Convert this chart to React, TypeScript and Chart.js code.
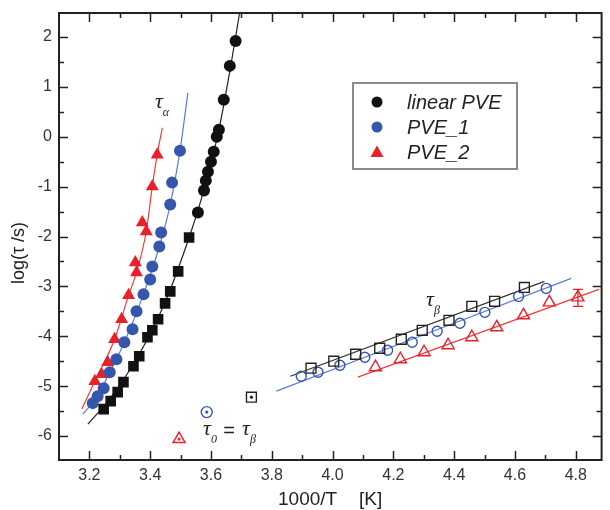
import React, { useEffect, useRef } from "react";
import { Chart, registerables } from "chart.js";
Chart.register(...registerables);

// axis ticks
const xTicks = [3.2, 3.4, 3.6, 3.8, 4.0, 4.2, 4.4, 4.6, 4.8];
const xMinorTicks = [3.3, 3.5, 3.7, 3.9, 4.1, 4.3, 4.5, 4.7];
const yTicks = [-6, -5, -4, -3, -2, -1, 0, 1, 2];
const yMinorTicks = [-5.5, -4.5, -3.5, -2.5, -1.5, -0.5, 0.5, 1.5];

// linear PVE, alpha process (circles and squares)
const linAlphaCircX = [3.681, 3.662, 3.642, 3.626, 3.619, 3.609, 3.600, 3.590, 3.583, 3.577, 3.557];
const linAlphaCircY = [1.92, 1.42, 0.74, 0.14, 0.0, -0.30, -0.50, -0.70, -0.88, -1.08, -1.52];
const linAlphaSqX = [3.528, 3.492, 3.466, 3.449, 3.426, 3.407, 3.391, 3.364, 3.345, 3.312, 3.293, 3.270, 3.247];
const linAlphaSqY = [-2.02, -2.70, -3.10, -3.34, -3.66, -3.88, -4.02, -4.40, -4.60, -4.92, -5.12, -5.30, -5.46];
const linAlphaFitX = [3.195, 3.266, 3.364, 3.446, 3.528, 3.577, 3.626, 3.665, 3.694];
const linAlphaFitY = [-5.76, -5.26, -4.36, -3.36, -2.02, -1.06, 0.14, 1.42, 2.48];

// PVE_1 alpha
const pve1AlphaX = [3.498, 3.472, 3.466, 3.436, 3.430, 3.407, 3.400, 3.378, 3.355, 3.342, 3.315, 3.289, 3.267, 3.247, 3.227, 3.211];
const pve1AlphaY = [-0.28, -0.92, -1.36, -1.92, -2.20, -2.60, -2.86, -3.16, -3.50, -3.86, -4.12, -4.46, -4.72, -5.04, -5.20, -5.34];
const pve1AlphaFitX = [3.178, 3.227, 3.267, 3.315, 3.378, 3.430, 3.466, 3.498, 3.524];
const pve1AlphaFitY = [-5.56, -5.20, -4.72, -4.12, -3.16, -2.20, -1.36, -0.28, 0.88];

// PVE_2 alpha
const pve2AlphaX = [3.423, 3.407, 3.374, 3.387, 3.351, 3.355, 3.329, 3.306, 3.283, 3.260, 3.240, 3.218];
const pve2AlphaY = [-0.36, -1.00, -1.72, -1.90, -2.52, -2.72, -3.18, -3.66, -4.06, -4.52, -4.76, -4.90];
const pve2AlphaFitX = [3.175, 3.218, 3.283, 3.329, 3.355, 3.387, 3.407, 3.423, 3.440];
const pve2AlphaFitY = [-5.46, -4.90, -4.06, -3.18, -2.72, -1.90, -1.00, -0.36, 0.18];

// beta process
const linBetaX = [3.929, 4.004, 4.076, 4.155, 4.226, 4.295, 4.383, 4.458, 4.533, 4.631];
const linBetaY = [-4.64, -4.50, -4.36, -4.24, -4.06, -3.88, -3.68, -3.40, -3.30, -3.02];
const linBetaFitX = [3.861, 4.697];
const linBetaFitY = [-4.80, -2.90];
const pve1BetaX = [3.897, 3.952, 4.024, 4.106, 4.181, 4.262, 4.344, 4.419, 4.501, 4.612, 4.703];
const pve1BetaY = [-4.80, -4.72, -4.58, -4.42, -4.28, -4.12, -3.90, -3.74, -3.52, -3.20, -3.04];
const pve1BetaFitX = [3.815, 4.785];
const pve1BetaFitY = [-5.10, -2.84];
const pve2BetaX = [4.141, 4.223, 4.301, 4.380, 4.458, 4.540, 4.628, 4.713, 4.807];
const pve2BetaY = [-4.62, -4.46, -4.32, -4.18, -4.02, -3.82, -3.58, -3.32, -3.22];
const pve2BetaFitX = [4.083, 4.876];
const pve2BetaFitY = [-4.82, -3.06];
// error bar on the last PVE_2 beta point
const pve2BetaErrX = [4.807];
const pve2BetaErrLow = [-3.40];
const pve2BetaErrHigh = [-3.06];

// tau_0 points (linear PVE, PVE_1, PVE_2)
const tau0X = [3.733, 3.586, 3.495];
const tau0Y = [-5.22, -5.52, -6.06];

const BLACK = "#111111";
const BLUE = "#3656ac";
const BLUE_LINE = "#5a7ad8";
const RED = "#e8202a";
const RED_LINE = "#f03a3a";

const pts = (xs: number[], ys: number[]) => xs.map((v, i) => ({ x: v, y: ys[i] }));

const legendItems = [
  { label: "linear PVE", color: BLACK, style: "circle" },
  { label: "PVE_1", color: BLUE, style: "circle" },
  { label: "PVE_2", color: RED, style: "triangle" },
];

const decorPlugin = {
  id: "decor",
  afterDatasetsDraw(chart: any) {
    const { ctx } = chart;
    const xs = chart.scales.x;
    const ys = chart.scales.y;
    ctx.save();
    ctx.strokeStyle = RED;
    ctx.lineWidth = 1.3;
    pve2BetaErrX.forEach((v, i) => {
      const px = xs.getPixelForValue(v);
      const lo = ys.getPixelForValue(pve2BetaErrLow[i]);
      const hi = ys.getPixelForValue(pve2BetaErrHigh[i]);
      ctx.beginPath();
      ctx.moveTo(px - 5, lo);
      ctx.lineTo(px + 5, lo);
      ctx.moveTo(px - 5, hi);
      ctx.lineTo(px + 5, hi);
      ctx.moveTo(px, hi);
      ctx.lineTo(px, lo);
      ctx.stroke();
    });
    ctx.restore();
  },
  afterDraw(chart: any) {
    const { ctx, chartArea } = chart;
    const { left, right, top, bottom } = chartArea;
    const xs = chart.scales.x;
    const ys = chart.scales.y;
    ctx.save();
    ctx.strokeStyle = "#222";
    ctx.lineWidth = 1.5;
    const line = (x1: number, y1: number, x2: number, y2: number) => {
      ctx.beginPath();
      ctx.moveTo(x1, y1);
      ctx.lineTo(x2, y2);
      ctx.stroke();
    };
    const xt = (vals: number[], len: number) => {
      vals.forEach((v) => {
        const p = Math.round(xs.getPixelForValue(v)) + 0.5;
        line(p, bottom, p, bottom - len);
        line(p, top, p, top + len);
      });
    };
    const yt = (vals: number[], len: number) => {
      vals.forEach((v) => {
        const p = Math.round(ys.getPixelForValue(v)) + 0.5;
        line(left, p, left + len, p);
        line(right, p, right - len, p);
      });
    };
    xt(xTicks, 9);
    xt(xMinorTicks, 5);
    yt(yTicks, 9);
    yt(yMinorTicks, 5);
    ctx.lineWidth = 2;
    ctx.strokeRect(left, top, right - left, bottom - top);

    // tick labels
    ctx.fillStyle = "#333";
    ctx.font = '16px "Liberation Sans", Arial, sans-serif';
    ctx.textAlign = "center";
    ctx.textBaseline = "middle";
    xTicks.forEach((v) => ctx.fillText(v.toFixed(1), xs.getPixelForValue(v), bottom + 16));
    ctx.textAlign = "right";
    yTicks.forEach((v) => ctx.fillText(String(v), left - 7, ys.getPixelForValue(v)));

    // axis titles
    ctx.fillStyle = "#222";
    ctx.font = '19px "Liberation Sans", Arial, sans-serif';
    ctx.textAlign = "left";
    ctx.fillText("1000/T", 278, 500);
    ctx.fillText("[K]", 359, 500);
    ctx.save();
    ctx.translate(19, 253);
    ctx.rotate(-Math.PI / 2);
    ctx.textAlign = "center";
    ctx.font = '18px "Liberation Sans", Arial, sans-serif';
    ctx.fillText("log(\u03C4 /s)", 0, 0);
    ctx.restore();

    // legend
    ctx.strokeStyle = "#8a8a8a";
    ctx.lineWidth = 2;
    ctx.strokeRect(353, 83, 164, 86);
    legendItems.forEach((it, i) => {
      const cy = 102 + i * 25;
      ctx.fillStyle = it.color;
      ctx.beginPath();
      if (it.style === "circle") {
        ctx.arc(377, cy, 5.5, 0, Math.PI * 2);
      } else {
        ctx.moveTo(377, cy - 6.5);
        ctx.lineTo(383.5, cy + 5);
        ctx.lineTo(370.5, cy + 5);
        ctx.closePath();
      }
      ctx.fill();
      ctx.fillStyle = "#222";
      ctx.font = 'italic 20px "Liberation Sans", Arial, sans-serif';
      ctx.textAlign = "left";
      ctx.textBaseline = "middle";
      ctx.fillText(it.label, 407, cy + 1);
    });

    // annotations
    const tau = (x: number, y: number, sub: string) => {
      ctx.fillStyle = "#222";
      ctx.textAlign = "center";
      ctx.textBaseline = "middle";
      ctx.font = 'italic 22px "Liberation Serif", "DejaVu Serif", serif';
      ctx.fillText("\u03C4", x, y);
      ctx.font = 'italic 12px "Liberation Serif", "DejaVu Serif", serif';
      ctx.fillText(sub, x + 7, y + 11);
    };
    tau(159, 102, "\u03B1");
    tau(430, 300, "\u03B2");
    tau(207, 429, "0");
    ctx.font = '20px "Liberation Sans", Arial, sans-serif';
    ctx.fillText("=", 229, 431);
    tau(246, 429, "\u03B2");
    ctx.restore();
  },
};

export default function App() {
  const ref = useRef<HTMLCanvasElement | null>(null);
  useEffect(() => {
    document.body.style.margin = "0";
    const canvas = ref.current;
    if (!canvas) return;
    const lineDs = (xs: number[], ys: number[], color: string) => ({
      data: pts(xs, ys),
      showLine: true,
      borderColor: color,
      borderWidth: 1.2,
      pointRadius: 0,
      tension: 0.4,
      cubicInterpolationMode: "monotone" as const,
      fill: false,
      order: 10,
    });
    const chart = new Chart(canvas, {
      type: "scatter",
      data: {
        datasets: [
          lineDs(linAlphaFitX, linAlphaFitY, "#222"),
          lineDs(pve1AlphaFitX, pve1AlphaFitY, BLUE_LINE),
          lineDs(pve2AlphaFitX, pve2AlphaFitY, RED_LINE),
          lineDs(linBetaFitX, linBetaFitY, "#333"),
          lineDs(pve1BetaFitX, pve1BetaFitY, BLUE_LINE),
          lineDs(pve2BetaFitX, pve2BetaFitY, RED_LINE),
          {
            data: pts(pve2AlphaX, pve2AlphaY),
            pointStyle: "triangle",
            pointRadius: 7.5,
            backgroundColor: RED,
            borderColor: RED,
            borderWidth: 0,
            order: 6,
          },
          {
            data: pts(pve1AlphaX, pve1AlphaY),
            pointStyle: "circle",
            pointRadius: 6,
            backgroundColor: BLUE,
            borderColor: BLUE,
            borderWidth: 0,
            order: 5,
          },
          {
            data: pts(linAlphaCircX, linAlphaCircY),
            pointStyle: "circle",
            pointRadius: 6,
            backgroundColor: BLACK,
            borderColor: BLACK,
            borderWidth: 0,
            order: 4,
          },
          {
            data: pts(linAlphaSqX, linAlphaSqY),
            pointStyle: "rect",
            pointRadius: 7.5,
            backgroundColor: BLACK,
            borderColor: BLACK,
            borderWidth: 0,
            order: 4,
          },
          {
            data: pts(linBetaX, linBetaY),
            pointStyle: "rect",
            pointRadius: 7,
            backgroundColor: "rgba(255,255,255,0)",
            borderColor: "#222",
            borderWidth: 1.4,
            order: 4,
          },
          {
            data: pts(pve1BetaX, pve1BetaY),
            pointStyle: "circle",
            pointRadius: 5,
            backgroundColor: "rgba(255,255,255,0)",
            borderColor: BLUE,
            borderWidth: 1.4,
            order: 4,
          },
          {
            data: pts(pve2BetaX, pve2BetaY),
            pointStyle: "triangle",
            pointRadius: 7,
            backgroundColor: "rgba(255,255,255,0)",
            borderColor: RED,
            borderWidth: 1.4,
            order: 4,
          },
          {
            data: pts(tau0X, tau0Y),
            pointStyle: ["rect", "circle", "triangle"],
            pointRadius: [7, 5.5, 7],
            backgroundColor: "#ffffff",
            borderColor: ["#222", BLUE, RED],
            borderWidth: 1.4,
            order: 2,
          },
          {
            data: pts(tau0X, tau0Y),
            pointStyle: "circle",
            pointRadius: 1.6,
            backgroundColor: ["#222", BLUE, RED],
            borderColor: ["#222", BLUE, RED],
            borderWidth: 0,
            order: 1,
          },
        ] as any,
      },
      options: {
        animation: false,
        responsive: false,
        devicePixelRatio: 1,
        layout: { padding: { left: 59, top: 13, right: 5, bottom: 50 } },
        plugins: { legend: { display: false }, tooltip: { enabled: false } },
        scales: {
          x: { type: "linear", min: 3.1, max: 4.885, display: false },
          y: { type: "linear", min: -6.48, max: 2.48, display: false },
        },
      },
      plugins: [decorPlugin],
    });
    return () => chart.destroy();
  }, []);
  return <canvas ref={ref} width={610} height={510} style={{ display: "block" }} />;
}
